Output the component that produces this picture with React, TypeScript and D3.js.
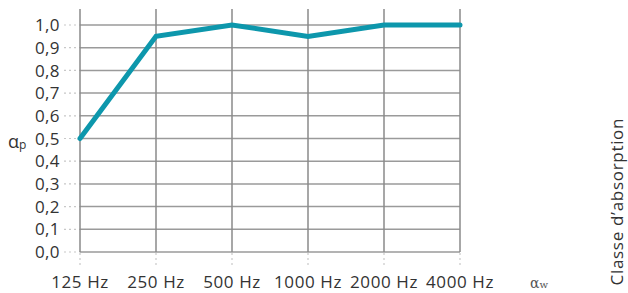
import React from "react";
import * as d3 from "d3";

const categories = ["125 Hz", "250 Hz", "500 Hz", "1000 Hz", "2000 Hz", "4000 Hz"];
const values = [0.5, 0.95, 1.0, 0.95, 1.0, 1.0];
const yTicks = [0, 0.1, 0.2, 0.3, 0.4, 0.5, 0.6, 0.7, 0.8, 0.9, 1.0];

const W = 628;
const H = 293;
const FONT = "'Open Sans', 'Noto Sans', sans-serif";

export default function App() {
  const x = d3.scalePoint<string>().domain(categories).range([80, 460]);
  const y = d3.scaleLinear().domain([0, 1]).range([252, 25]);
  const line = d3
    .line<number>()
    .x((_, i) => x(categories[i]) as number)
    .y((d) => y(d));

  return (
    <svg
      width={W}
      height={H}
      style={{ position: "absolute", left: 0, top: 0 }}
      fontFamily={FONT}
    >
      <rect width={W} height={H} fill="#fff" />
      {yTicks.map((t) => (
        <g key={t}>
          <line
            x1={64}
            x2={80}
            y1={y(t)}
            y2={y(t)}
            stroke="#c8c8c8"
            strokeWidth={1.2}
            strokeDasharray="2,3"
          />
          <line
            x1={80}
            x2={460}
            y1={y(t)}
            y2={y(t)}
            stroke="#9a9a9a"
            strokeWidth={1.5}
          />
          <text
            x={60}
            y={y(t)}
            dy="0.36em"
            textAnchor="end"
            fontSize={17}
            letterSpacing={0.4}
            fill="#333"
          >
            {d3.format(".1f")(t).replace(".", ",")}
          </text>
        </g>
      ))}
      {categories.map((c) => (
        <g key={c}>
          <line
            x1={x(c)}
            x2={x(c)}
            y1={9}
            y2={252}
            stroke="#8a8a8a"
            strokeWidth={1.5}
          />
          <line
            x1={x(c)}
            x2={x(c)}
            y1={253}
            y2={268}
            stroke="#c8c8c8"
            strokeWidth={1.2}
            strokeDasharray="2,3"
          />
          <text
            x={x(c)}
            y={288}
            textAnchor="middle"
            fontSize={17}
            letterSpacing={0.6}
            fill="#333"
          >
            {c}
          </text>
        </g>
      ))}
      <path
        d={line(values) as string}
        fill="none"
        stroke="#0d97ac"
        strokeWidth={5}
        strokeLinejoin="miter"
        strokeLinecap="round"
      />
      <text x={8} y={148} fontSize={18} fill="#333">
        α<tspan fontSize={12} dy={1}>p</tspan>
      </text>
      <text
        x={530}
        y={288}
        fontSize={14}
        fill="#555"
        fontFamily="'DejaVu Serif', serif"
      >
        α<tspan fontSize={10}>w</tspan>
      </text>
      <text
        transform="translate(623,202) rotate(-90)"
        textAnchor="middle"
        fontSize={17}
        textLength={167}
        lengthAdjust="spacing"
        fill="#333"
      >
        Classe d’absorption
      </text>
    </svg>
  );
}
